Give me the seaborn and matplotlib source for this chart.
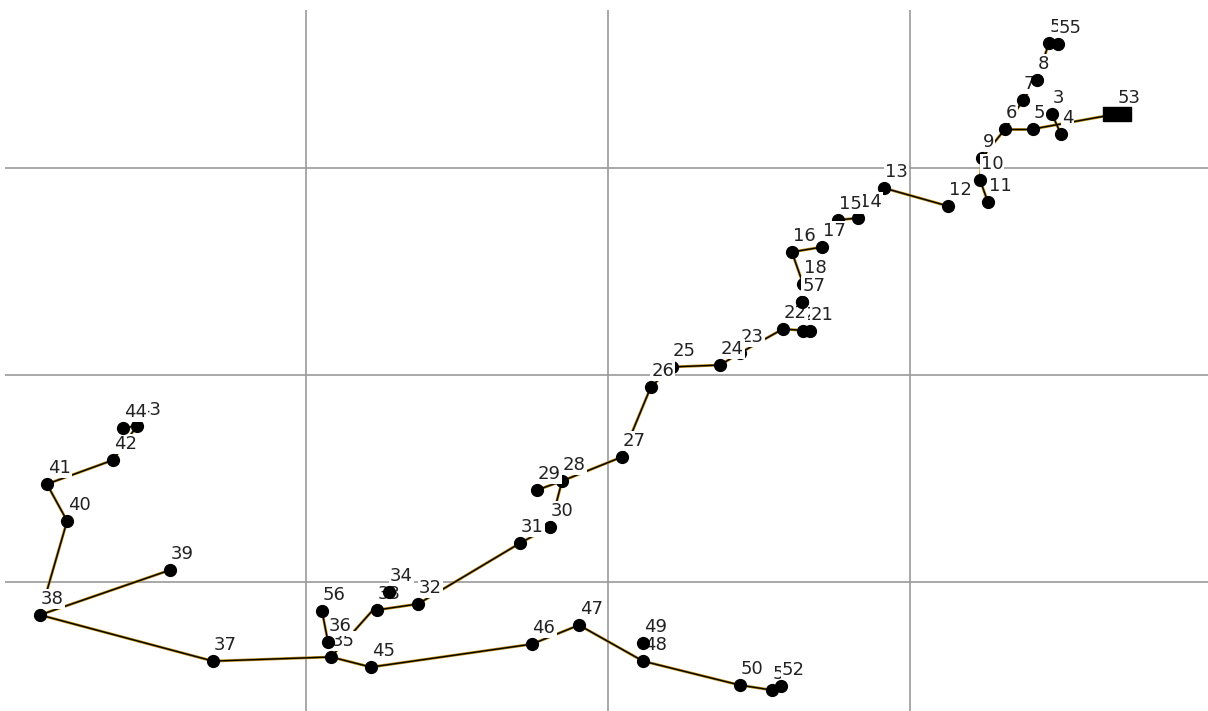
import matplotlib
matplotlib.use('Agg')
import matplotlib.pyplot as plt
import pandas as pd
import seaborn as sns

# track points, numbered in order (grid units)
point_ids = list(range(1, 58))
x_vals = [368.5, 368.5, 347.0, 350.0, 340.7, 331.5, 337.4, 342.1, 323.8, 323.2,
          325.8, 312.6, 291.4, 282.8, 276.2, 260.9, 270.9, 264.6, 264.2, 264.6,
          266.9, 257.9, 243.7, 237.1, 221.2, 214.2, 204.6, 184.8, 176.5, 180.8,
          170.9, 137.1, 123.5, 127.5, 108.3, 107.3, 69.2, 11.9, 55.0, 20.9,
          14.2, 36.1, 44.0, 39.4, 121.5, 174.8, 190.4, 211.6, 211.6, 243.7,
          254.3, 257.3, 368.5, 346.0, 349.0, 105.3, 264.2]
y_vals = [326.1, 326.1, 326.1, 316.4, 318.8, 318.8, 332.9, 342.5, 304.8, 294.2,
          283.6, 281.6, 290.3, 275.8, 274.9, 259.4, 261.8, 244.0, 235.3, 221.3,
          221.3, 222.2, 210.6, 204.8, 203.9, 194.2, 160.4, 148.8, 144.4, 126.6,
          118.8, 89.4, 86.5, 95.2, 63.8, 71.0, 61.8, 84.1, 105.8, 129.5,
          147.3, 158.9, 175.4, 174.4, 58.9, 70.0, 79.2, 61.8, 70.5, 50.2,
          47.8, 49.8, 326.1, 360.4, 359.9, 86.0, 235.3]

# segments that are drawn between points
edges = [(8, 54), (7, 8), (6, 7), (5, 6), (5, 53), (3, 4), (6, 9), (9, 10),
         (10, 11), (12, 13), (14, 15), (16, 17), (16, 18), (18, 19), (21, 22),
         (22, 23), (23, 24), (24, 25), (25, 26), (26, 27), (27, 28), (28, 29),
         (28, 30), (30, 31), (31, 32), (32, 33), (34, 35), (35, 37), (35, 45),
         (36, 56), (37, 38), (38, 39), (38, 40), (40, 41), (41, 42), (42, 43),
         (43, 44), (45, 46), (46, 47), (47, 48), (48, 50), (50, 51), (51, 52)]

grid_ticks = [100, 200, 300]

sns.set_style('white')
plt.rcParams['font.family'] = ['DejaVu Sans']

pts = pd.DataFrame({'id': point_ids, 'x': x_vals, 'y': y_vals}).set_index('id')

rows = []
for k, (a, b) in enumerate(edges):
    rows.append({'edge': k, 'x': pts.loc[a, 'x'], 'y': pts.loc[a, 'y']})
    rows.append({'edge': k, 'x': pts.loc[b, 'x'], 'y': pts.loc[b, 'y']})
seg = pd.DataFrame(rows)

fig = plt.figure(figsize=(12.08, 7.11), dpi=100)
ax = fig.add_axes([5 / 1208, 0, 1203 / 1208, 701 / 711])

sns.lineplot(data=seg, x='x', y='y', units='edge', estimator=None, sort=False,
             color='#b8860b', linewidth=2.0, ax=ax, zorder=1)
sns.lineplot(data=seg, x='x', y='y', units='edge', estimator=None, sort=False,
             color='black', linewidth=1.0, ax=ax, zorder=2)

# rectangle marker used for the end point 53
rect = [(-2, -1), (2, -1), (2, 1), (-2, 1), (-2, -1)]

for i, pid in enumerate(point_ids):
    px, py = pts.loc[pid, 'x'], pts.loc[pid, 'y']
    ax.annotate(str(pid), (px, py), xytext=(0.5, 11.5), textcoords='offset points',
                ha='left', va='center', fontsize=13, color='#222222',
                bbox=dict(boxstyle='square,pad=0.06', fc='white', ec='none'),
                zorder=3 + 2 * i)
    if pid == 53:
        ax.plot([px], [py], marker=rect, color='black', ms=19.5, ls='none',
                zorder=4 + 2 * i)
    else:
        ax.plot([px], [py], 'o', color='black', ms=8.5, ls='none', zorder=4 + 2 * i)

ax.set_xlim(0.33, 398.7)
ax.set_ylim(37.7, 376.3)
ax.set_xticks(grid_ticks)
ax.set_yticks(grid_ticks)
ax.grid(True, color='#9a9a9a', linewidth=1.2)
ax.set_axisbelow(True)
ax.tick_params(length=0, labelbottom=False, labelleft=False)
ax.set_xlabel('')
ax.set_ylabel('')
for s in ax.spines.values():
    s.set_visible(False)

fig.savefig('out.png', dpi=100)
